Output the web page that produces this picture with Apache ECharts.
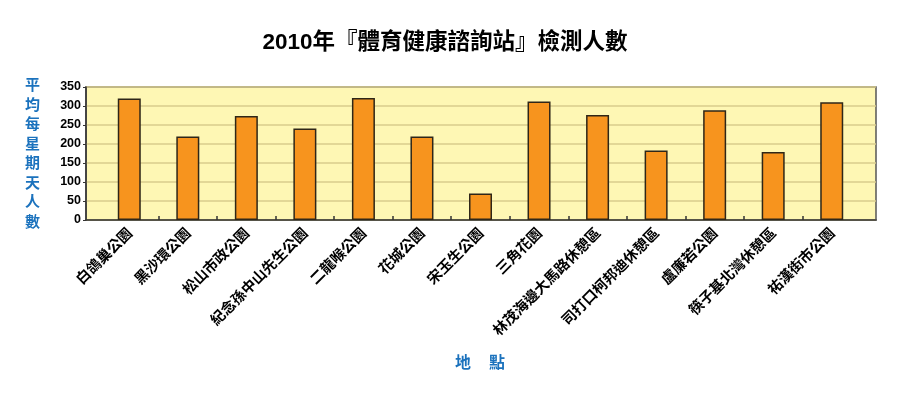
<!DOCTYPE html>
<html><head><meta charset="utf-8">
<script src="https://cdn.jsdelivr.net/npm/echarts@6/dist/echarts.min.js"></script>
<style>html,body{margin:0;padding:0;background:#fff}#c{width:900px;height:393px}</style>
</head><body><div id="c"></div>
<script>
const titleText = '2010年『體育健康諮詢站』檢測人數';
const yName = '平均每星期天人數';
const xName = ['地', '點'];
const categories = ['白鴿巢公園','黑沙環公園','松山市政公園','紀念孫中山先生公園','二龍喉公園','花城公園','宋玉生公園','三角花園','林茂海邊大馬路休憩區','司打口柯邦迪休憩區','盧廉若公園','筷子基北灣休憩區','祐漢街市公園'];
const values = [320, 220, 274, 241, 321, 220, 70, 312, 276, 183, 289, 179, 310];
const yTicks = [0, 50, 100, 150, 200, 250, 300, 350];

const font = '"Noto Sans CJK TC", "Liberation Sans", Arial, sans-serif';
const titleFont = '"Liberation Sans", "Noto Sans CJK TC", Arial, sans-serif';
const bandL = 100, bandR = 861, band = (bandR - bandL) / categories.length;
const chart = echarts.init(document.getElementById('c'));
chart.setOption({
  animation: false,
  textStyle: { fontFamily: font },
  grid: [
    { left: 86, right: 24, top: 87, bottom: 173, show: true, backgroundColor: '#fef7b4', borderColor: '#555', borderWidth: 1.5 },
    { left: bandL, right: 900 - bandR, top: 87, bottom: 173 },
    { left: bandL + band, right: 900 - bandR + band, top: 87, bottom: 173 }
  ],
  xAxis: [
    { type: 'category', gridIndex: 0, data: categories, axisLine: { lineStyle: { color: '#333', width: 1.5 } }, axisTick: { show: false }, axisLabel: { show: false } },
    { type: 'category', gridIndex: 1, data: categories, axisLine: { show: false }, axisTick: { show: false },
      axisLabel: { rotate: 45, interval: 0, margin: 10, fontSize: 14.5, fontWeight: 'bold', color: '#000', fontFamily: font } },
    { type: 'category', gridIndex: 2, data: categories.slice(1), boundaryGap: false, axisLine: { show: false },
      axisTick: { show: true, inside: true, length: 4, interval: 0, lineStyle: { color: '#333', width: 1.5 } },
      axisLabel: { show: false } }
  ],
  yAxis: [
    { type: 'value', gridIndex: 0, min: 0, max: 350, interval: 50,
      axisLine: { show: true, lineStyle: { color: '#333', width: 1.5 } },
      axisTick: { show: true, length: 3, lineStyle: { color: '#333' } },
      axisLabel: { fontSize: 12.5, fontWeight: 'bold', color: '#000', margin: 5, fontFamily: '"Liberation Sans", Arial, sans-serif',
        formatter: v => yTicks.includes(v) ? String(v) : '' },
      splitLine: { show: true, lineStyle: { color: '#d9cd8c', width: 1.5 } } },
    { type: 'value', gridIndex: 1, min: 0, max: 350, interval: 50, show: false, splitLine: { show: false } },
    { type: 'value', gridIndex: 2, min: 0, max: 350, interval: 50, show: false, splitLine: { show: false } }
  ],
  graphic: [
    { type: 'text', x: 445, y: 43, style: { text: titleText, fontSize: 22.5, fontWeight: 'bold', fill: '#000', align: 'center', verticalAlign: 'middle', fontFamily: titleFont } },
    { type: 'text', left: 25, top: 75, style: { text: yName.split('').join('\n'), fontSize: 15, fontWeight: 'bold', lineHeight: 19.5, fill: '#1b72bd', fontFamily: font } },
    { type: 'text', left: 455, top: 354, style: { text: xName[0], fontSize: 16, fontWeight: 'bold', fill: '#1b72bd', fontFamily: font } },
    { type: 'text', left: 489, top: 354, style: { text: xName[1], fontSize: 16, fontWeight: 'bold', fill: '#1b72bd', fontFamily: font } }
  ],
  series: [{
    type: 'bar', xAxisIndex: 1, yAxisIndex: 1, data: values, barWidth: 23,
    itemStyle: { color: '#f7941e', borderColor: '#2e2618', borderWidth: 1.5 }
  }]
});
</script></body></html>
